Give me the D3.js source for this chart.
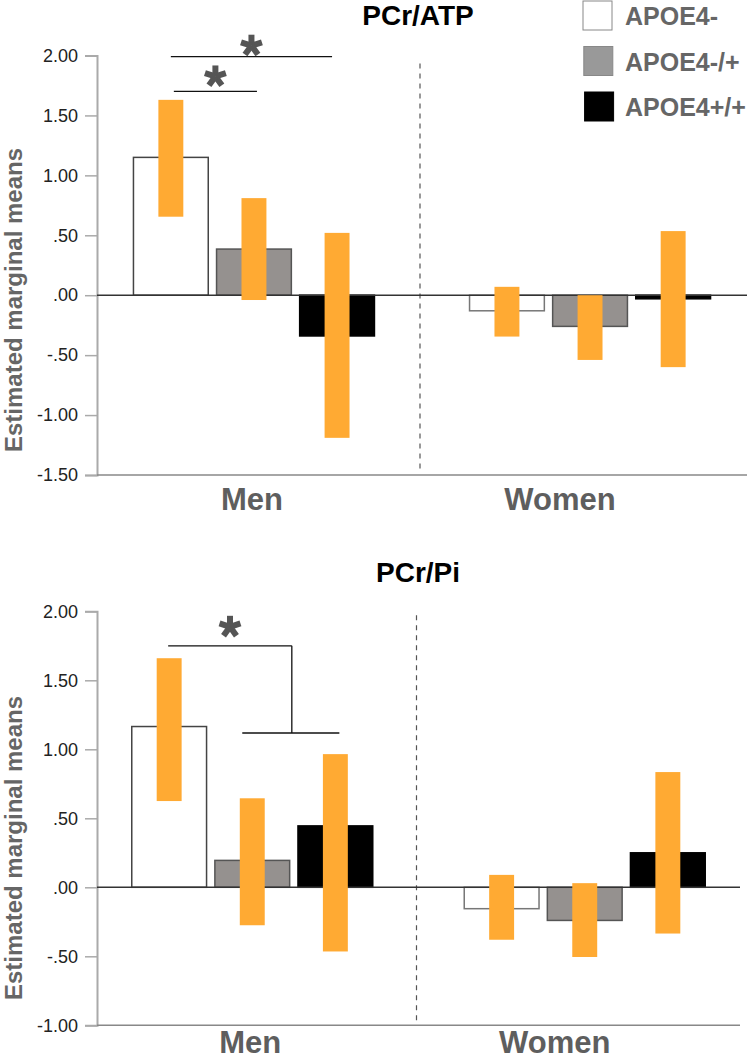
<!DOCTYPE html>
<html>
<head>
<meta charset="utf-8">
<script src="https://cdn.jsdelivr.net/npm/d3@7"></script>
<style>
  html, body { margin: 0; padding: 0; background: #fff; }
  svg { display: block; font-family: "Liberation Sans", Arial, Helvetica, sans-serif; }
</style>
</head>
<body>
<svg id="chart" width="748" height="1061"></svg>
<script>
// ---------- data ----------
const categories = ["Men", "Women"];
const groups = ["APOE4-", "APOE4-/+", "APOE4+/+"];

// PCr/ATP panel
const atpMeans = [[1.15, 0.385, -0.34], [-0.13, -0.26, -0.03]];
const atpLow   = [[0.655, -0.04, -1.19], [-0.345, -0.54, -0.60]];
const atpHigh  = [[1.63, 0.81, 0.52], [0.07, 0.0, 0.535]];
const atpTicks = [2.0, 1.5, 1.0, 0.5, 0.0, -0.5, -1.0, -1.5];
const atpTickLabels = ["2.00", "1.50", "1.00", ".50", ".00", "-.50", "-1.00", "-1.50"];

// PCr/Pi panel
const piMeans = [[1.165, 0.195, 0.445], [-0.155, -0.24, 0.25]];
const piLow   = [[0.625, -0.275, -0.465], [-0.38, -0.505, -0.335]];
const piHigh  = [[1.66, 0.645, 0.965], [0.09, 0.03, 0.835]];
const piTicks = [2.0, 1.5, 1.0, 0.5, 0.0, -0.5, -1.0];
const piTickLabels = ["2.00", "1.50", "1.00", ".50", ".00", "-.50", "-1.00"];

const titles = ["PCr/ATP", "PCr/Pi"];
const yTitle = "Estimated marginal means";

// ---------- styles ----------
const barFill = ["#ffffff", "#95918f", "#000000"];
const barStroke = ["#444444", "#555555", "#000000"];
const legendFill = ["#ffffff", "#999999", "#000000"];
const orange = "#FFAA33";
const textGray = "#5e5e5e";

const svg = d3.select("#chart");

function drawPanel(opt) {
  const g = svg.append("g");
  const y = d3.scaleLinear().domain(opt.yDomain).range(opt.yRange);
  const x = d3.scalePoint().domain(categories).range(opt.xRange).padding(0.467);
  const inner = d3.scaleBand().domain(groups).range([-120.5, 120.5]).paddingInner(0.1);
  const bw = inner.bandwidth();

  // y axis
  const yAxis = d3.axisLeft(y).tickValues(opt.ticks)
    .tickFormat((d, i) => opt.tickLabels[i]).tickSize(12).tickPadding(7);
  const ax = g.append("g").attr("transform", `translate(${opt.xRange[0]},0)`).call(yAxis);
  ax.select(".domain").attr("stroke", "#aaaaaa").attr("stroke-width", 2);
  ax.selectAll(".tick line").attr("stroke", "#aaaaaa").attr("stroke-width", 1.5);
  ax.selectAll(".tick text").attr("fill", "#222").style("font-size", "18px")
    .style("font-family", "'Liberation Sans', Arial, sans-serif");

  // bottom axis line
  g.append("line")
    .attr("x1", opt.xRange[0]).attr("x2", opt.xRange[1])
    .attr("y1", y(opt.yDomain[0])).attr("y2", y(opt.yDomain[0]))
    .attr("stroke", "#888").attr("stroke-width", 1.5);

  // divider
  const midX = (x(categories[0]) + x(categories[1])) / 2 - 2;
  g.append("line")
    .attr("x1", midX).attr("x2", midX)
    .attr("y1", y(opt.yDomain[1]) + opt.dashInset).attr("y2", y(opt.yDomain[0]) - 5)
    .attr("stroke", "#555").attr("stroke-width", 1.2).attr("stroke-dasharray", "5,5");

  // bars
  const data = [];
  categories.forEach((c, ci) => groups.forEach((gr, gi) => {
    data.push({ c, gr, gi, v: opt.means[ci][gi], lo: opt.low[ci][gi], hi: opt.high[ci][gi] });
  }));

  g.selectAll("rect.bar").data(data).enter().append("rect")
    .attr("class", "bar")
    .attr("x", d => x(d.c) + inner(d.gr))
    .attr("width", bw)
    .attr("y", d => Math.min(y(d.v), y(0)))
    .attr("height", d => Math.abs(y(d.v) - y(0)))
    .attr("fill", d => barFill[d.gi])
    .attr("stroke", d => (d.c === "Women" && d.gi === 0) ? "#777" : barStroke[d.gi])
    .attr("stroke-width", 1.5);

  // zero line
  g.append("line")
    .attr("x1", opt.xRange[0]).attr("x2", opt.xRange[1])
    .attr("y1", y(0)).attr("y2", y(0))
    .attr("stroke", "#333").attr("stroke-width", 1.5);

  // orange CI bars
  const ew = bw / 3;
  g.selectAll("rect.ci").data(data).enter().append("rect")
    .attr("class", "ci")
    .attr("x", d => x(d.c) + inner(d.gr) + bw / 2 - ew / 2)
    .attr("width", ew)
    .attr("y", d => y(d.hi))
    .attr("height", d => y(d.lo) - y(d.hi))
    .attr("fill", orange);

  // title
  g.append("text").attr("x", 418).attr("y", opt.titleY)
    .attr("text-anchor", "middle").attr("fill", "#000")
    .style("font-size", "28px").style("font-weight", "bold").text(opt.title);

  // y title
  g.append("text")
    .attr("transform", `translate(22,${opt.yTitleY}) rotate(-90)`)
    .attr("text-anchor", "middle").attr("fill", "#666")
    .style("font-size", "24px").style("font-weight", "bold").text(yTitle);

  // category labels
  g.selectAll("text.cat").data(categories).enter().append("text")
    .attr("class", "cat")
    .attr("x", (d, i) => x(d) + (i === 0 ? -2 : -30))
    .attr("y", opt.catY)
    .attr("text-anchor", "middle").attr("fill", textGray)
    .style("font-size", "31px").style("font-weight", "bold").text(d => d);

  return { g, x, y, inner, bw };
}

function star(g, cx, cy) {
  const L = 11;
  const s = g.append("g").attr("transform", `translate(${cx},${cy})`);
  for (let k = 0; k < 5; k++) {
    const a = k * 72 * Math.PI / 180;
    s.append("line").attr("x1", 0).attr("y1", 0)
      .attr("x2", L * Math.sin(a)).attr("y2", -L * Math.cos(a))
      .attr("stroke", "#555").attr("stroke-width", 6).attr("stroke-linecap", "butt");
  }
}

// ---------- top panel ----------
const p1 = drawPanel({
  yDomain: [-1.5, 2.0], yRange: [475, 55.5], xRange: [97, 747],
  ticks: atpTicks, tickLabels: atpTickLabels,
  means: atpMeans, low: atpLow, high: atpHigh,
  title: titles[0], titleY: 25, yTitleY: 300, catY: 510, dashInset: 8
});
{
  const cx = i => p1.x("Men") + p1.inner(groups[i]) + p1.bw / 2;
  const xa = cx(0), xb = cx(2) - 5, ya = p1.y(1.99);
  p1.g.append("line").attr("x1", xa).attr("x2", xb).attr("y1", ya).attr("y2", ya)
    .attr("stroke", "#111").attr("stroke-width", 1.3);
  star(p1.g, (xa + xb) / 2, ya - 11);
  const xc = cx(0) + 3, xd = cx(1) + 3, yb = p1.y(1.7);
  p1.g.append("line").attr("x1", xc).attr("x2", xd).attr("y1", yb).attr("y2", yb)
    .attr("stroke", "#111").attr("stroke-width", 1.3);
  star(p1.g, (xc + xd) / 2, yb - 15);
}

// legend
const leg = svg.append("g");
groups.forEach((gr, i) => {
  leg.append("rect").attr("x", 583 + i * 0.8).attr("y", 1 + i * 45.5)
    .attr("width", 29).attr("height", 29)
    .attr("fill", legendFill[i]).attr("stroke", i === 2 ? "#000" : "#888").attr("stroke-width", 1);
  leg.append("text").attr("x", 625).attr("y", 25 + i * 45.5)
    .attr("fill", "#666").style("font-size", "25px").style("font-weight", "bold").text(gr);
});

// ---------- bottom panel ----------
const p2 = drawPanel({
  yDomain: [-1.0, 2.0], yRange: [1025.3, 611.3], xRange: [97, 740],
  ticks: piTicks, tickLabels: piTickLabels,
  means: piMeans, low: piLow, high: piHigh,
  title: titles[1], titleY: 582, yTitleY: 848, catY: 1053, dashInset: 4
});
{
  const cx = i => p2.x("Men") + p2.inner(groups[i]) + p2.bw / 2;
  const x0 = cx(0) - 1, xv = (cx(1) + cx(2)) / 2 - 2;
  const yTop = p2.y(1.75), yLow = p2.y(1.118);
  const br = p2.g.append("g").attr("stroke", "#111").attr("stroke-width", 1.3).attr("fill", "none");
  br.append("line").attr("x1", x0).attr("x2", xv).attr("y1", yTop).attr("y2", yTop);
  br.append("line").attr("x1", xv).attr("x2", xv).attr("y1", yTop).attr("y2", yLow);
  br.append("line").attr("x1", cx(1) - 10).attr("x2", cx(2) + 4).attr("y1", yLow).attr("y2", yLow);
  star(p2.g, (x0 + xv) / 2, yTop - 19);
}
</script>
</body>
</html>
